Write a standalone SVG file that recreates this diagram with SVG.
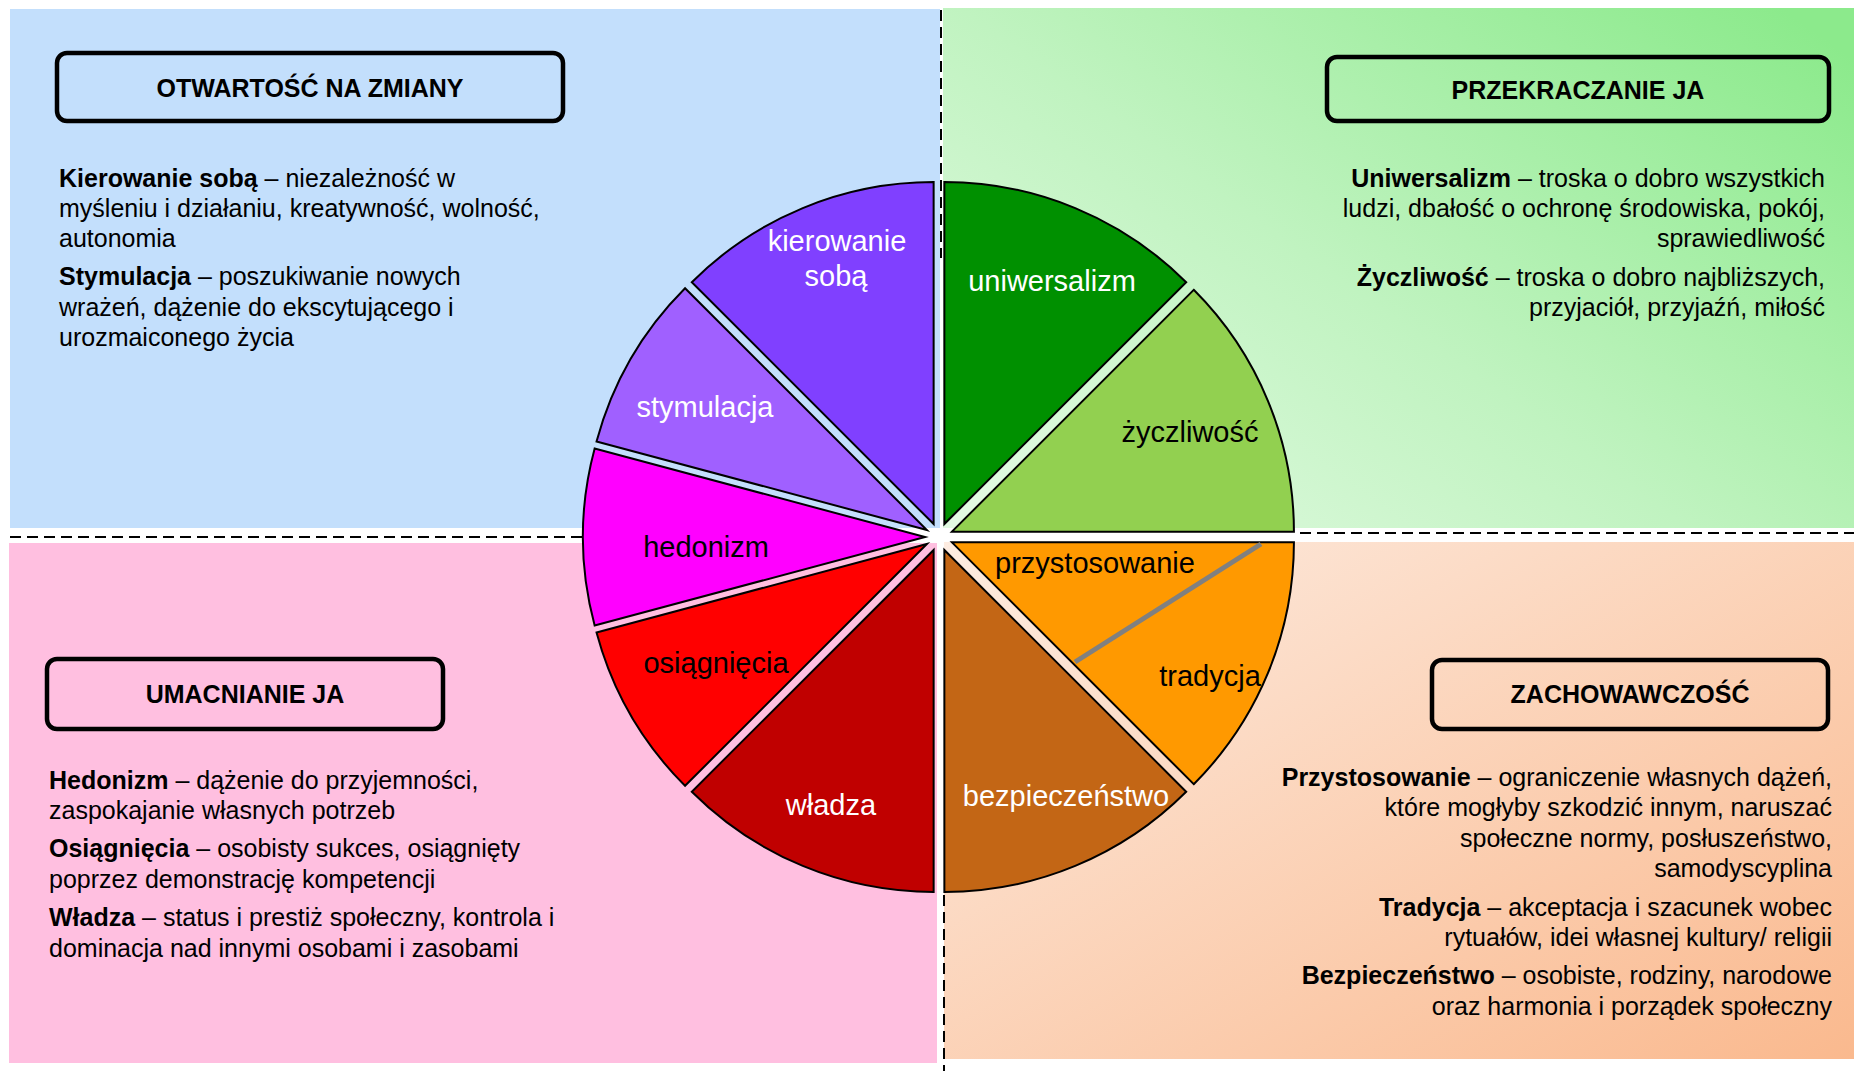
<svg xmlns="http://www.w3.org/2000/svg" width="1854" height="1071" viewBox="0 0 1854 1071">
<style>
text{font-family:"Liberation Sans",Arial,sans-serif;}
.body{font-size:25px;fill:#000;}
.b{font-weight:bold;}
.hdr{font-size:25px;font-weight:bold;fill:#000;text-anchor:middle;}
.hbox{fill:none;stroke:#000;stroke-width:4.5;}
.slice{stroke:#000;stroke-width:2;stroke-linejoin:miter;}
.lbl{font-size:29px;text-anchor:middle;}
.w{fill:#fff;}
.k{fill:#000;}
.dash{stroke:#000;stroke-width:2;stroke-dasharray:11 6;fill:none;}
.end{text-anchor:end;}
</style>
<defs>
<linearGradient id="gTR" x1="0" y1="0.9" x2="1" y2="0.1">
<stop offset="0" stop-color="#E2FAE2"/>
<stop offset="0.45" stop-color="#C0F3C0"/>
<stop offset="1" stop-color="#8CEA8C"/>
</linearGradient>
<linearGradient id="gBR" x1="0" y1="0" x2="1" y2="1">
<stop offset="0" stop-color="#FDECE1"/>
<stop offset="1" stop-color="#FAB98E"/>
</linearGradient>
</defs>
<rect width="1854" height="1071" fill="#fff"/>

<g id="quadrant-otwartosc">
<rect x="10" y="9" width="930" height="519" fill="#C3DFFC"/>
<rect class="hbox" x="57" y="53" width="506" height="68" rx="10"/>
<text class="hdr" x="310" y="97">OTWARTOŚĆ NA ZMIANY</text>
<text class="body" x="59" y="187"><tspan class="b">Kierowanie sobą</tspan> – niezależność w</text>
<text class="body" x="59" y="217">myśleniu i działaniu, kreatywność, wolność,</text>
<text class="body" x="59" y="247">autonomia</text>
<text class="body" x="59" y="285"><tspan class="b">Stymulacja</tspan> – poszukiwanie nowych</text>
<text class="body" x="59" y="316">wrażeń, dążenie do ekscytującego i</text>
<text class="body" x="59" y="346">urozmaiconego życia</text>
</g>

<g id="quadrant-przekraczanie">
<rect x="943" y="8" width="911" height="520" fill="url(#gTR)"/>
<rect class="hbox" x="1327" y="57" width="502" height="64" rx="10"/>
<text class="hdr" x="1578" y="99">PRZEKRACZANIE JA</text>
<text class="body end" x="1825" y="187"><tspan class="b">Uniwersalizm</tspan> – troska o dobro wszystkich</text>
<text class="body end" x="1825" y="217">ludzi, dbałość o ochronę środowiska, pokój,</text>
<text class="body end" x="1825" y="247">sprawiedliwość</text>
<text class="body end" x="1825" y="286"><tspan class="b">Życzliwość</tspan> – troska o dobro najbliższych,</text>
<text class="body end" x="1825" y="316">przyjaciół, przyjaźń, miłość</text>
</g>

<g id="quadrant-umacnianie">
<rect x="9" y="543" width="928" height="520" fill="#FFBFE0"/>
<rect class="hbox" x="47" y="659" width="396" height="70" rx="10"/>
<text class="hdr" x="245" y="703">UMACNIANIE JA</text>
<text class="body" x="49" y="789"><tspan class="b">Hedonizm</tspan> – dążenie do przyjemności,</text>
<text class="body" x="49" y="819">zaspokajanie własnych potrzeb</text>
<text class="body" x="49" y="857"><tspan class="b">Osiągnięcia</tspan> – osobisty sukces, osiągnięty</text>
<text class="body" x="49" y="888">poprzez demonstrację kompetencji</text>
<text class="body" x="49" y="926"><tspan class="b">Władza</tspan> – status i prestiż społeczny, kontrola i</text>
<text class="body" x="49" y="957">dominacja nad innymi osobami i zasobami</text>
</g>

<g id="quadrant-zachowawczosc">
<rect x="944" y="542" width="910" height="517" fill="url(#gBR)"/>
<rect class="hbox" x="1432" y="660" width="396" height="69" rx="10"/>
<text class="hdr" x="1630" y="703">ZACHOWAWCZOŚĆ</text>
<text class="body end" x="1832" y="786"><tspan class="b">Przystosowanie</tspan> – ograniczenie własnych dążeń,</text>
<text class="body end" x="1832" y="816">które mogłyby szkodzić innym, naruszać</text>
<text class="body end" x="1832" y="847">społeczne normy, posłuszeństwo,</text>
<text class="body end" x="1832" y="877">samodyscyplina</text>
<text class="body end" x="1832" y="916"><tspan class="b">Tradycja</tspan> – akceptacja i szacunek wobec</text>
<text class="body end" x="1832" y="946">rytuałów, idei własnej kultury/ religii</text>
<text class="body end" x="1832" y="984"><tspan class="b">Bezpieczeństwo</tspan> – osobiste, rodziny, narodowe</text>
<text class="body end" x="1832" y="1015">oraz harmonia i porządek społeczny</text>
</g>

<g id="connectors">
<line class="dash" x1="941" y1="10" x2="941" y2="258"/>
<line class="dash" x1="944" y1="895" x2="944" y2="1071"/>
<line class="dash" x1="10" y1="537" x2="590" y2="537"/>
<line class="dash" x1="1300" y1="533" x2="1854" y2="533"/>
</g>

<g id="slice-uniwersalizm">
<path class="slice" fill="#009000" d="M944.36,524.07 L944.36,182.07 A342,342 0 0 1 1186.19,282.24 Z"/>
<text class="lbl w" x="1052" y="291">uniwersalizm</text>
</g>
<g id="slice-zyczliwosc">
<path class="slice" fill="#92D050" d="M951.93,531.64 L1193.76,289.81 A342,342 0 0 1 1293.93,531.64 Z"/>
<text class="lbl k" x="1190" y="442">życzliwość</text>
</g>
<g id="slice-przystosowanie-tradycja">
<path class="slice" fill="#FF9900" d="M951.93,542.36 L1293.93,542.36 A342,342 0 0 1 1193.76,784.19 Z"/>
<line x1="1075" y1="662" x2="1261" y2="544" stroke="#808080" stroke-width="5"/>
<text class="lbl k" x="1095" y="573">przystosowanie</text>
<text class="lbl k" x="1210" y="686">tradycja</text>
</g>
<g id="slice-bezpieczenstwo">
<path class="slice" fill="#C36615" d="M944.36,549.93 L1186.19,791.76 A342,342 0 0 1 944.36,891.93 Z"/>
<text class="lbl w" x="1066" y="806">bezpieczeństwo</text>
</g>
<g id="slice-wladza">
<path class="slice" fill="#C00000" d="M933.64,549.93 L933.64,891.93 A342,342 0 0 1 691.81,791.76 Z"/>
<text class="lbl w" x="831" y="815">władza</text>
</g>
<g id="slice-osiagniecia">
<path class="slice" fill="#FF0000" d="M926.88,544 L685.05,785.83 A342,342 0 0 1 596.53,632.52 Z"/>
<text class="lbl k" x="716" y="673">osiągnięcia</text>
</g>
<g id="slice-hedonizm">
<path class="slice" fill="#FF00FF" d="M925,537 L594.65,625.52 A342,342 0 0 1 594.65,448.48 Z"/>
<text class="lbl k" x="706" y="557">hedonizm</text>
</g>
<g id="slice-stymulacja">
<path class="slice" fill="#A060FF" d="M926.88,530 L596.53,441.48 A342,342 0 0 1 685.05,288.17 Z"/>
<text class="lbl w" x="705" y="417">stymulacja</text>
</g>
<g id="slice-kierowanie">
<path class="slice" fill="#8040FF" d="M933.64,524.07 L691.81,282.24 A342,342 0 0 1 933.64,182.07 Z"/>
<text class="lbl w" x="837" y="251">kierowanie</text>
<text class="lbl w" x="836" y="286">sobą</text>
</g>
</svg>
